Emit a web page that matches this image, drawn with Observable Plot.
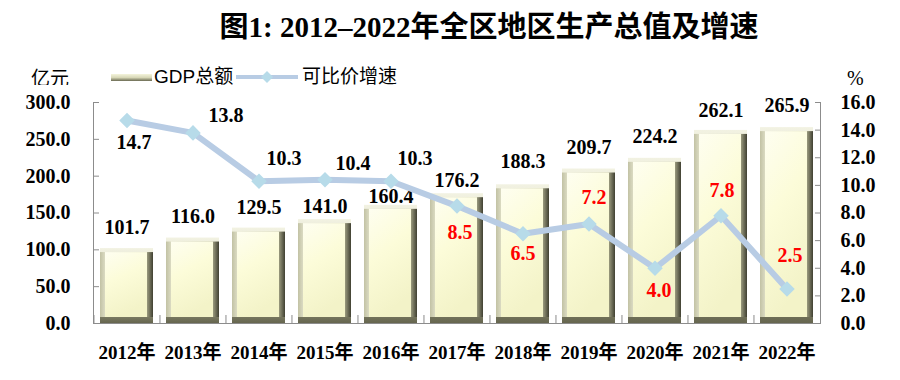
<!DOCTYPE html>
<html><head><meta charset="utf-8">
<script src="https://cdn.jsdelivr.net/npm/d3@7"></script>
<script src="https://cdn.jsdelivr.net/npm/@observablehq/plot@0.6"></script>
<style>
body{margin:0;background:#fff;}
#wrap{position:relative;width:900px;height:380px;overflow:hidden;background:#fff;}
#title{position:absolute;left:189px;width:600px;top:9px;text-align:center;font:bold 29px/36px "Liberation Serif","Noto Sans CJK SC",serif;color:#000;white-space:nowrap;}
.lg{position:absolute;font-family:"Liberation Sans","Noto Sans CJK SC",sans-serif;font-size:19px;line-height:24px;top:65px;color:#000;white-space:nowrap;}
#chart{position:absolute;left:0;top:85px;}
#defs{position:absolute;left:0;top:0;width:0;height:0;}
</style></head>
<body>
<svg id="defs" width="0" height="0">
  <defs>
    <linearGradient id="lgsw" x1="0" y1="0" x2="0" y2="1"><stop offset="0" stop-color="#f4f4dc"/><stop offset="0.5" stop-color="#d8d8b8"/><stop offset="1" stop-color="#6a6a52"/></linearGradient>
    <linearGradient id="bevV" x1="0" y1="0" x2="0" y2="1">
      <stop offset="0" stop-color="#f2f2e2"/><stop offset="0.6" stop-color="#c8c8ac"/><stop offset="1" stop-color="#66664f"/>
    </linearGradient>
    <linearGradient id="bevH" x1="0" y1="0" x2="1" y2="0">
      <stop offset="0" stop-color="#c2c2a4"/><stop offset="0.1" stop-color="#dcdcc4"/><stop offset="0.86" stop-color="#b0b090"/><stop offset="1" stop-color="#404032"/>
    </linearGradient>
    <linearGradient id="barface" x1="0" y1="0" x2="0.3" y2="1">
      <stop offset="0" stop-color="#fefef0"/><stop offset="0.45" stop-color="#fcfcd9"/><stop offset="1" stop-color="#f3f3c8"/>
    </linearGradient>
  </defs>
</svg>
<div id="wrap">
  <div id="title">图1: 2012–2022年全区地区生产总值及增速</div>
  <div class="lg" style="left:31px;font-family:'Noto Sans CJK SC';">亿元</div>
  <svg class="lg" style="left:111px;top:73px" width="42" height="9">
    <rect x="0" y="1" width="41" height="7" fill="url(#lgsw)"/>
  </svg>
  <div class="lg" style="left:154px;">GDP总额</div>
  <svg class="lg" style="left:236px;top:68px" width="64" height="18">
    <line x1="0" y1="9" x2="62" y2="9" stroke="#b8cce4" stroke-width="4"/>
    <path d="M31,3L37,9L31,15L25,9Z" fill="#b7dbe9"/>
  </svg>
  <div class="lg" style="left:302px;">可比价增速</div>
  <div class="lg" style="left:847px;top:66px;font-family:'Liberation Serif';font-size:20px;">%</div>
  <div id="chart"></div>
</div>
<script>
const years = ["2012年","2013年","2014年","2015年","2016年","2017年","2018年","2019年","2020年","2021年","2022年"];
const gdp = [101.7,116.0,129.5,141.0,160.4,176.2,188.3,209.7,224.2,262.1,265.9];
const growth = [14.7,13.8,10.3,10.4,10.3,8.5,6.5,7.2,4.0,7.8,2.5];
const gdpTicks = [0,50,100,150,200,250,300];
const growthTicks = [0,2,4,6,8,10,12,14,16];
// label placement offsets (px)
const gdpLabelGap = [14,14,14,6,2,6,16,14,15,13,15];
const labelDx = [7,33,25,28,24,3,0,5,4,1,3];
const labelDy = [22,-17,-23,-16,-23,26,20,-26,22,-25,-33];

const W = 900, H = 295, mL = 93, mR = 80, mT = 17, mB = 57;
const k = 300 / 16;
const rows = years.map((year, i) => ({year, gdp: gdp[i], growth: growth[i], g: growth[i] * k, i}));
const bw = (W - mL - mR) / years.length;
const axisColor = "#8c8c8c";
const numFont = {fontSize: 20, fontWeight: "bold"};

const growthLabels = rows.map(d => Plot.text([d], {
  x: "year", y: "g", text: r => r.growth.toFixed(1),
  dx: labelDx[d.i], dy: labelDy[d.i], lineAnchor: "middle",
  fill: d.i < 5 ? "#000" : "#ff0000", ...numFont
}));
const gdpLabels = rows.map(d => Plot.text([d], {
  x: "year", y: "gdp", text: r => r.gdp.toFixed(1),
  dy: -gdpLabelGap[d.i] - 7, lineAnchor: "middle", fill: "#000", ...numFont
}));

const svg = Plot.plot({
  width: W, height: H, marginLeft: mL, marginRight: mR, marginTop: mT, marginBottom: mB,
  style: {fontFamily: "'Liberation Serif','Noto Sans CJK SC',serif", background: "white", color: "#000", overflow: "visible"},
  x: {domain: years, paddingInner: 0.2, paddingOuter: 0.1, label: null},
  y: {domain: [0, 300], label: null},
  marks: [
    Plot.barY(rows, {x: "year", y: "gdp", fill: "url(#bevV)"}),
    Plot.barY(rows, {x: "year", y: "gdp", fill: "url(#bevH)", insetTop: 4, insetBottom: 6}),
    Plot.barY(rows, {x: "year", y: "gdp", fill: "url(#barface)", insetLeft: 5, insetRight: 6, insetTop: 4, insetBottom: 6}),
    ...gdpLabels,
    Plot.ruleY([0], {stroke: axisColor}),
    Plot.frame({anchor: "left", stroke: axisColor}),
    Plot.frame({anchor: "right", stroke: axisColor}),
    Plot.axisY(gdpTicks, {anchor: "left", tickSize: 0, tickPadding: 23, tickFormat: d => d.toFixed(1), label: null, ...numFont}),
    Plot.axisY(gdpTicks, {anchor: "left", tickSize: 6, dx: 6, tickFormat: () => "", label: null, stroke: axisColor}),
    Plot.axisY(growthTicks.map(v => v * k), {anchor: "right", tickSize: 0, tickPadding: 20, tickFormat: d => (d / k).toFixed(1), label: null, ...numFont}),
    Plot.axisY(growthTicks.map(v => v * k), {anchor: "right", tickSize: 6, dx: -6, tickFormat: () => "", label: null, stroke: axisColor}),
    Plot.axisX({anchor: "bottom", tickSize: 0, tickPadding: 22, label: null, fontSize: 19, fontWeight: "bold"}),
    Plot.axisX({anchor: "bottom", tickSize: 8, dx: -bw / 2, dy: -8, tickFormat: () => "", label: null, stroke: axisColor}),
    Plot.line(rows, {x: "year", y: "g", stroke: "#b8cce4", strokeWidth: 6}),
    Plot.dot(rows, {x: "year", y: "g", symbol: "diamond2", r: 7, fill: "#b7dbe9", stroke: "none"}),
    ...growthLabels
  ]
});

document.getElementById("chart").appendChild(svg);
</script>
</body></html>
